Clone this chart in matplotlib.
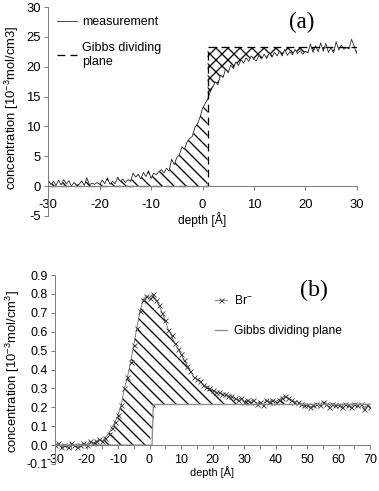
import numpy as np
import matplotlib
matplotlib.use("Agg")
import matplotlib.pyplot as plt
import matplotlib.ticker as ticker

plt.rcParams['font.family'] = ['Liberation Sans', 'DejaVu Sans']
plt.rcParams['mathtext.fontset'] = 'custom'
plt.rcParams['mathtext.rm'] = 'Liberation Sans'
plt.rcParams['mathtext.default'] = 'regular'
plt.rcParams['axes.unicode_minus'] = False
plt.rcParams['hatch.linewidth'] = 1.3

# ---- panel (a): measured concentration profile, depth -30..30 step 0.5
depth_a = np.arange(-30, 30.01, 0.5)
meas_a = [1.0, 0.3, 0.8, 0.1, 1.0, 0.2, 1.1, 0.4, 0.9, 0.0,
          0.6, 0.2, 0.3, 0.9, 0.1, 1.4, 0.2, 0.5, 0.3, 0.6,
          0.3, 1.0, 0.4, 1.4, 0.3, 0.8, 0.4, 1.5, 0.8, 1.2,
          0.6, 1.1, 0.8, 2.2, 1.5, 2.0, 1.2, 2.3, 1.6, 2.6,
          1.3, 2.2, 1.9, 2.4, 2.8, 2.2, 3.0, 2.5, 4.5, 3.6,
          4.8, 5.2, 6.6, 6.2, 7.4, 8.0, 8.3, 9.8, 10.4, 11.5,
          13.0, 13.8, 14.6, 15.8, 16.6, 17.5, 17.0, 18.6, 18.2, 19.6,
          19.0, 20.3, 19.7, 20.8, 20.2, 21.2, 20.6, 21.5, 20.9, 21.8,
          21.2, 21.0, 21.9, 21.3, 22.1, 21.4, 22.3, 21.6, 22.4, 21.8,
          22.6, 21.8, 22.9, 21.9, 22.5, 22.0, 22.9, 22.2, 22.7, 22.1,
          22.6, 22.3, 23.8, 22.4, 23.5, 22.5, 24.0, 22.6, 23.9, 22.4,
          23.2, 22.3, 24.2, 22.8, 23.6, 22.9, 23.2, 23.0, 24.6, 23.4,
          22.2]
gibbs_a_x = [-30, 1, 1, 30]
gibbs_a_y = [0, 0, 23.3, 23.3]

# ---- panel (b): Br- profile, depth -30..70 step 1
depth_b = np.arange(-30, 71, 1)
br = [0.00, 0.01, -0.01, 0.00, -0.01, 0.01, 0.00, -0.01, 0.00, 0.01,
      0.00, 0.02, 0.01, 0.02, 0.03, 0.02, 0.04, 0.06, 0.09, 0.12,
      0.16, 0.21, 0.30, 0.36, 0.44, 0.53, 0.62, 0.71, 0.77, 0.79,
      0.78, 0.80, 0.77, 0.74, 0.70, 0.66, 0.61, 0.58, 0.54, 0.51,
      0.48, 0.45, 0.42, 0.39, 0.36, 0.35, 0.34, 0.32, 0.31, 0.30,
      0.29, 0.28, 0.28, 0.27, 0.27, 0.26, 0.26, 0.25, 0.24, 0.25,
      0.23, 0.24, 0.23, 0.24, 0.22, 0.23, 0.21, 0.24, 0.23, 0.24,
      0.23, 0.24, 0.25, 0.26, 0.25, 0.24, 0.23, 0.23, 0.22, 0.21,
      0.21, 0.20, 0.21, 0.22, 0.21, 0.23, 0.22, 0.20, 0.22, 0.21,
      0.21, 0.20, 0.22, 0.21, 0.20, 0.22, 0.21, 0.22, 0.19, 0.21,
      0.20]
gibbs_b_x = [-30, 0.8, 1.2, 70]
gibbs_b_y = [0, 0, 0.215, 0.215]

W, H = 379, 491
fig = plt.figure(figsize=(W / 72, H / 72), dpi=72)
spine_col = '#808080'


def style_axes(ax, size):
    for s in ['top', 'right']:
        ax.spines[s].set_visible(False)
    for s in ['left', 'bottom']:
        ax.spines[s].set_color(spine_col)
        ax.spines[s].set_linewidth(1.0)
    ax.spines['bottom'].set_position(('data', 0))
    ax.tick_params(which='both', direction='out', length=4, width=1.0,
                   color=spine_col, labelsize=size)


# (a)
ax1 = fig.add_axes([48.3 / W, 1 - 216 / H, 308.4 / W, 209 / H])
style_axes(ax1, 13)
xa = np.asarray(depth_a)
ya = np.asarray(meas_a)
step_a, level_a = gibbs_a_x[1], gibbs_a_y[2]
ax1.fill_between(xa, 0, ya, where=xa <= step_a, facecolor='none',
                 edgecolor='black', linewidth=0, hatch='\\\\')
ax1.fill_between(xa, ya, level_a, where=(xa >= step_a) & (ya < level_a),
                 interpolate=True, facecolor='none', edgecolor='black',
                 linewidth=0, hatch='xx')
ax1.plot(xa, ya, color='#222222', lw=0.8, label='measurement')
ax1.plot(gibbs_a_x, gibbs_a_y, color='black', lw=1.3, dashes=(6, 4),
         label='Gibbs dividing\nplane')
ax1.set_xlim(-30, 30)
ax1.set_ylim(-5, 30)
ax1.xaxis.set_major_locator(ticker.MultipleLocator(10))
ax1.yaxis.set_major_locator(ticker.MultipleLocator(5))
ax1.tick_params(axis='x', pad=9)
ax1.set_xlabel('depth [Å]', fontsize=12, labelpad=1)
ax1.set_ylabel('concentration [10$^{-3}$mol/cm3]', fontsize=13)
ax1.yaxis.set_label_coords(-27 / 308.4, 0.52)
ax1.legend(loc='upper left', bbox_to_anchor=(52 / W, 1 - 11 / H),
           bbox_transform=fig.transFigure, frameon=False, fontsize=12.5,
           handlelength=1.6, handletextpad=0.4, labelspacing=1.1,
           borderaxespad=0)
fig.text(302 / W, 1 - 22 / H, '(a)', family='Liberation Serif', fontsize=23,
         ha='center', va='center')

# (b)
ax2 = fig.add_axes([55 / W, 1 - 464 / H, 315 / W, 189 / H])
style_axes(ax2, 12.5)
xb = np.asarray(depth_b)
yb = np.asarray(br)
gb = np.interp(xb, gibbs_b_x, gibbs_b_y)
ax2.fill_between(xb, gb, yb, where=yb > gb, interpolate=True,
                 facecolor='none', edgecolor='black', linewidth=0,
                 hatch='\\\\')
ax2.plot(xb, yb, color='#666666', lw=0.8, marker='x', markersize=5,
         markeredgewidth=0.9, markeredgecolor='#444444', label='Br$^{-}$')
ax2.plot(gibbs_b_x, gibbs_b_y, color='#8c8c8c', lw=1.3,
         label='Gibbs dividing plane')
ax2.set_xlim(-30, 70)
ax2.set_ylim(-0.1, 0.9)
ax2.xaxis.set_major_locator(ticker.MultipleLocator(10))
ax2.xaxis.set_minor_locator(ticker.MultipleLocator(5))
ax2.yaxis.set_major_locator(ticker.MultipleLocator(0.1))
ax2.yaxis.set_major_formatter(ticker.FormatStrFormatter('%.1f'))
ax2.tick_params(axis='x', which='both', pad=5)
ax2.set_xlabel('depth [Å]', fontsize=11, labelpad=0)
ax2.set_ylabel('concentration [10$^{-3}$mol/cm$^{3}$]', fontsize=13)
ax2.yaxis.set_label_coords(-33 / 315, 0.49)
ax2.legend(loc='upper left', bbox_to_anchor=(210 / W, 1 - 289 / H),
           bbox_transform=fig.transFigure, frameon=False, fontsize=12,
           handlelength=1.0, handletextpad=0.6, labelspacing=1.5,
           borderaxespad=0)
fig.text(314 / W, 1 - 290 / H, '(b)', family='Liberation Serif', fontsize=24,
         ha='center', va='center')

fig.savefig('out.png', dpi=72)
